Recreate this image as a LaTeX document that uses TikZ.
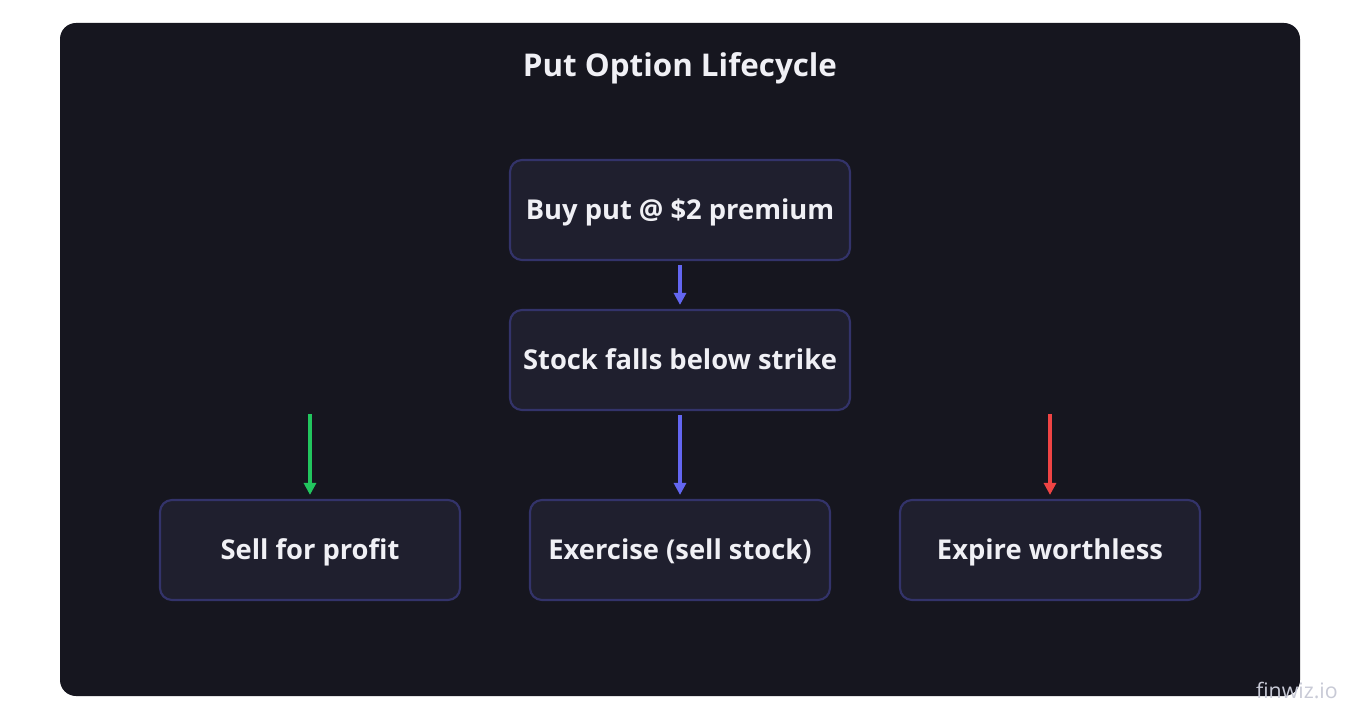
\documentclass[tikz,border=0pt]{standalone}
\usepackage{fontspec}
\setmainfont{Open Sans}
\usetikzlibrary{arrows.meta}
\definecolor{bgc}{HTML}{16161F}
\definecolor{boxfill}{HTML}{1F1F2E}
\definecolor{boxline}{HTML}{33336A}
\definecolor{txt}{HTML}{F0F0F5}
\definecolor{ablue}{HTML}{6366F1}
\definecolor{agreen}{HTML}{22C55E}
\definecolor{ared}{HTML}{EF4444}
\definecolor{wm}{HTML}{C8CAD6}
\tikzset{
  stepbox/.style={draw=boxline, line width=1.6pt, fill=boxfill, rounded corners=9pt,
    minimum height=75pt, text=txt, font=\fontsize{20.5}{24}\selectfont\bfseries, inner sep=0pt,
    text depth=0pt, text height=14.5pt},
  flow/.style={line width=2.6pt, -{Triangle[length=9pt,width=9pt]}},
}
\begin{document}
\begin{tikzpicture}[x=0.75pt,y=-0.75pt]
\useasboundingbox (0,0) rectangle (1360,720);
\fill[white] (0,0) rectangle (1360,720);
\fill[bgc, rounded corners=12pt] (60,23) rectangle (1300,696);
\node[text=txt, font=\fontsize{23.5}{27}\selectfont\bfseries] (title) at (680,68) {Put Option Lifecycle};
\node[stepbox, minimum width=255pt] (buy) at (680,210) {Buy put @ \$2 premium};
\node[stepbox, minimum width=255pt] (falls) at (680,360) {Stock falls below strike};
\node[stepbox, minimum width=225pt] (sell) at (310,550) {Sell for profit};
\node[stepbox, minimum width=225pt] (ex) at (680,550) {Exercise (sell stock)};
\node[stepbox, minimum width=225pt] (exp) at (1050,550) {Expire worthless};
\coordinate (gs) at (310,414);
\coordinate (rs) at (1050,414);
\draw[flow, ablue] ([yshift=-3pt]buy.south) -- ([yshift=3pt]falls.north);
\draw[flow, ablue] ([yshift=-3pt]falls.south) -- ([yshift=3pt]ex.north);
\draw[flow, agreen] (gs) -- ([yshift=3pt]sell.north);
\draw[flow, ared] (rs) -- ([yshift=3pt]exp.north);
\node[text=wm, font=\fontsize{16}{19}\selectfont, anchor=east, inner sep=0pt] (wmk) at (1338,690) {finwiz.io};
\end{tikzpicture}
\end{document}
